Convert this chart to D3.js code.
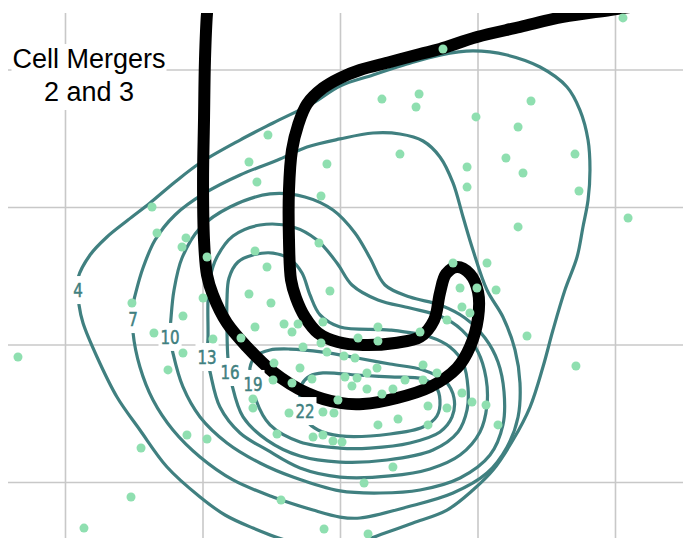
<!DOCTYPE html>
<html>
<head>
<meta charset="utf-8">
<script src="https://cdn.jsdelivr.net/npm/d3@7"></script>
<style>
  html, body { margin: 0; padding: 0; background: #fff; }
  svg { display: block; }
</style>
</head>
<body>
<div class="chart"></div>
<script>
const xTicks = [0, 10, 20, 30, 40]
const yTicks = [0, 10, 20, 30]
const levels = [4, 7, 10, 13, 16, 19, 22]
const titleLines = ['Cell Mergers', '2 and 3']

// contour rings (km), first vertex is where the level label sits
const contour4 = [[0.95,13.96],[1.02,12.87],[1.31,11.56],[2.33,9.09],[3.78,6.18],[5.45,3.78],[7.42,1.09],[9.82,-1.09],[11.64,-2.4],[13.67,-3.35],[16.0,-4.22],[18.55,-4.73],[21.09,-4.44],[23.27,-3.71],[25.31,-2.98],[27.78,-2.04],[29.67,-0.58],[31.13,0.87],[32.58,3.05],[33.82,5.45],[34.76,8.36],[35.49,11.05],[36.36,13.96],[37.24,16.36],[37.67,18.55],[38.04,20.51],[38.18,22.69],[38.04,24.87],[37.45,27.05],[36.51,28.73],[34.55,30.18],[32.15,31.05],[29.67,31.35],[27.27,31.05],[24.87,30.4],[22.4,29.6],[20.0,28.8],[18.04,27.56],[15.13,26.11],[12.73,24.87],[9.82,23.2],[8.0,21.82],[6.18,20.29],[4.58,19.05],[3.05,17.82],[1.82,16.51],[0.95,14.84]]
const contour7 = [[4.95,11.85],[4.95,10.84],[5.45,8.36],[6.4,5.96],[7.85,3.78],[9.82,1.82],[12.22,0.15],[15.13,-1.09],[18.04,-2.04],[20.0,-2.55],[21.45,-2.62],[24.87,-1.82],[28.22,-0.8],[30.69,0.65],[32.15,2.55],[32.95,4.73],[33.09,7.2],[32.73,9.6],[31.85,12.0],[30.69,13.96],[29.67,16.87],[28.95,19.27],[28.22,21.75],[27.27,23.64],[26.04,24.8],[24.36,25.31],[22.4,25.38],[20.0,24.95],[17.6,24.36],[15.64,23.49],[12.73,22.33],[10.18,21.02],[8.0,19.42],[6.55,17.6],[5.67,15.56],[5.16,13.82],[4.95,12.87]]
const contour10 = [[7.64,10.55],[7.85,9.38],[8.58,6.91],[9.82,4.73],[11.78,2.84],[14.18,1.38],[16.58,0.36],[20.0,-0.65],[22.91,-0.8],[25.82,-0.58],[28.73,0.29],[30.91,1.96],[31.85,4.15],[31.93,6.55],[31.49,8.73],[30.55,10.47],[29.09,11.93],[27.27,12.87],[25.09,13.45],[23.27,14.33],[22.18,16.29],[21.09,18.11],[19.49,19.78],[17.45,20.73],[14.91,20.95],[12.0,20.0],[9.82,18.47],[8.51,16.29],[7.93,13.96],[7.71,11.93]]
const contour13 = [[10.33,9.09],[10.55,8.0],[11.27,5.45],[12.73,3.56],[14.69,2.33],[17.09,1.02],[20.0,0.36],[23.64,0.44],[26.55,0.95],[28.73,1.96],[30.18,3.64],[30.69,5.6],[30.62,7.56],[30.04,9.45],[28.87,11.05],[27.27,12.07],[25.09,12.65],[22.76,13.24],[20.87,14.33],[19.78,15.93],[18.33,17.6],[16.58,18.55],[14.18,18.69],[12.22,17.89],[11.05,16.36],[10.55,14.84],[10.4,13.24],[10.4,10.47]]
const contour16 = [[12.0,8.0],[12.15,7.05],[12.95,4.73],[14.69,3.05],[17.09,1.89],[20.0,1.45],[23.42,1.6],[26.76,2.33],[28.58,3.64],[29.24,5.24],[29.31,6.84],[28.95,8.65],[28.0,9.82],[26.55,10.55],[23.64,11.05],[20.0,11.27],[18.55,12.15],[17.82,13.6],[17.24,15.2],[16.36,16.22],[15.13,16.65],[13.67,16.51],[12.58,16.0],[11.93,14.84],[11.78,13.24],[11.78,11.05],[11.85,9.02]]
const contour19 = [[13.67,7.13],[13.45,8.29],[13.89,9.16],[14.91,9.6],[16.36,9.67],[18.76,9.45],[21.24,9.02],[23.64,8.58],[26.04,8.15],[27.64,7.35],[28.29,6.11],[28.15,4.73],[27.27,3.64],[25.09,2.84],[22.18,2.47],[20.0,2.47],[17.09,2.91],[14.91,4.15],[13.89,5.96]]
const contour22 = [[17.45,5.16],[17.09,6.11],[17.24,7.13],[17.82,7.71],[18.76,7.93],[21.24,7.78],[23.64,7.64],[26.04,7.49],[26.98,6.91],[27.27,5.96],[27.05,4.8],[26.04,4.0],[23.64,3.49],[20.0,3.35],[18.4,3.78],[17.6,4.44]]

// merged cell track
const cellTrack = [[10.4,34.69],[10.33,34.11],[10.18,30.69],[10.11,26.33],[10.04,21.96],[10.11,17.6],[10.33,15.05],[10.76,13.6],[11.78,11.56],[13.24,9.82],[15.13,8.0],[17.6,6.47],[20.0,5.75],[21.67,5.67],[24.15,6.11],[26.55,6.91],[28.51,8.29],[29.45,9.82],[30.04,11.93],[30.04,13.82],[29.45,15.13],[28.51,15.64],[27.71,15.13],[27.27,13.75],[26.84,11.78],[25.82,10.55],[24.0,10.11],[21.67,9.96],[19.85,10.18],[18.4,10.84],[17.45,12.0],[16.8,13.38],[16.44,14.69],[16.29,17.6],[16.29,21.24],[16.51,24.15],[16.95,25.96],[17.6,27.49],[18.76,28.65],[20.0,29.38],[21.45,29.96],[23.64,30.55],[25.82,31.13],[27.27,31.49],[29.96,32.36],[33.09,33.09],[36.22,33.82],[39.64,34.33],[42.55,34.76]]

// observed cells
const cellPoints = [[-3.42,9.09],[1.38,-3.35],[4.8,-1.09],[5.53,2.47],[8.87,3.42],[10.33,3.13],[4.87,13.02],[6.47,10.84],[8.58,12.07],[8.58,9.38],[7.49,8.15],[6.33,20.0],[6.69,18.11],[8.8,17.75],[8.51,17.09],[10.33,16.36],[10.04,13.38],[10.76,10.4],[13.38,23.27],[14.76,25.24],[13.96,21.82],[19.05,23.13],[18.62,20.8],[18.47,17.38],[13.82,16.8],[14.69,15.64],[13.38,13.67],[14.98,13.02],[19.27,13.89],[13.82,11.27],[15.93,11.49],[16.51,10.91],[16.95,11.49],[18.76,11.64],[12.8,10.47],[17.31,9.82],[18.62,10.11],[19.05,9.45],[20.29,9.16],[21.09,9.02],[21.31,10.47],[22.76,11.27],[22.76,10.25],[25.82,10.91],[15.2,8.65],[17.09,8.29],[15.13,7.42],[16.51,7.2],[17.96,7.49],[20.36,7.64],[21.24,7.56],[20.87,6.98],[22.69,8.29],[21.96,7.93],[26.04,8.51],[27.05,7.93],[24.73,7.42],[26.04,7.42],[21.96,6.76],[23.05,6.4],[23.85,6.76],[19.85,5.96],[13.67,6.04],[13.67,5.38],[16.29,5.02],[18.76,5.09],[19.56,5.02],[26.4,5.53],[27.78,5.38],[28.87,6.47],[29.6,5.82],[30.62,5.6],[22.76,4.15],[24.22,4.58],[26.4,4.15],[31.49,4.15],[15.42,3.49],[18.04,3.27],[18.76,3.42],[19.49,2.98],[20.15,2.91],[23.85,1.09],[21.75,-0.07],[15.71,-1.31],[18.84,-3.42],[22.04,-3.78],[28.22,15.93],[30.69,15.93],[28.73,14.11],[29.96,14.11],[31.35,13.96],[28.87,12.73],[29.45,12.29],[27.78,11.78],[33.6,10.62],[37.16,8.44],[40.95,19.2],[27.49,31.49],[40.58,33.75],[23.05,27.85],[25.75,28.22],[25.53,27.27],[29.89,26.55],[33.89,27.71],[32.95,25.82],[24.36,23.85],[32.07,23.56],[33.31,22.47],[29.24,22.91],[29.24,21.45],[37.09,23.85],[37.38,21.16],[32.95,18.55]]

const contours = [contour4, contour7, contour10, contour13, contour16, contour19, contour22]

const width = 683, height = 538
const plot = {left: 8, top: 13, right: 683, bottom: 538}
const teal = '#408080'

const xScale = d3.scaleLinear().domain([0, 40]).range([65, 615])
const yScale = d3.scaleLinear().domain([0, 30]).range([482, 69.5])

const svg = d3.select('.chart').append('svg').attr('width', width).attr('height', height)

svg.append('defs').append('clipPath').attr('id', 'plotClip')
    .append('rect')
    .attr('x', plot.left).attr('y', plot.top)
    .attr('width', plot.right - plot.left).attr('height', plot.bottom - plot.top)

const body = svg.append('g').attr('clip-path', 'url(#plotClip)')

// grid from the axes
body.append('g')
    .attr('transform', 'translate(0,' + plot.bottom + ')')
    .call(d3.axisBottom(xScale).tickValues(xTicks).tickSize(-(plot.bottom - plot.top)).tickFormat(''))
    .call(g => g.select('.domain').remove())
    .selectAll('line').attr('stroke', '#c8c8c8').attr('stroke-width', 1.6)
body.append('g')
    .attr('transform', 'translate(' + plot.left + ',0)')
    .call(d3.axisLeft(yScale).tickValues(yTicks).tickSize(-(plot.right - plot.left)).tickFormat(''))
    .call(g => g.select('.domain').remove())
    .selectAll('line').attr('stroke', '#c8c8c8').attr('stroke-width', 1.6)

const ring = d3.line()
    .x(d => xScale(d[0]))
    .y(d => yScale(d[1]))
    .curve(d3.curveCatmullRomClosed.alpha(0.5))

body.append('g')
    .selectAll('path')
    .data(contours)
    .enter()
    .append('path')
    .attr('fill', 'none')
    .attr('stroke', teal)
    .attr('stroke-width', 3.2)
    .attr('d', d => ring(d))

const track = d3.line()
    .x(d => xScale(d[0]))
    .y(d => yScale(d[1]))
    .curve(d3.curveCatmullRom.alpha(0.5))

body.append('path')
    .datum(cellTrack)
    .attr('fill', 'none')
    .attr('stroke', '#000')
    .attr('stroke-width', 12)
    .attr('stroke-linejoin', 'round')
    .attr('d', track)

// level labels on white boxes
const labels = body.append('g')
contours.forEach(function(c, i) {
    const lx = xScale(c[0][0]), ly = yScale(c[0][1])
    const g = labels.append('g')
    const box = g.append('rect').attr('fill', '#fff')
    const t = g.append('text')
        .attr('transform', 'translate(' + lx + ',' + ly + ') scale(0.88,1)')
        .attr('dy', '0.36em')
        .attr('text-anchor', 'middle')
        .attr('font-family', "'DejaVu Sans Condensed', 'DejaVu Sans'")
        .attr('font-size', 19)
        .attr('fill', teal)
        .attr('stroke', teal)
        .attr('stroke-width', 0.5)
        .text(levels[i])
    const bb = t.node().getBBox()
    const w = bb.width * 0.88
    box.attr('x', lx - w / 2 - 2).attr('y', ly - 14).attr('width', w + 4).attr('height', 28)
})

body.append('g')
    .selectAll('circle')
    .data(cellPoints)
    .enter()
    .append('circle')
    .attr('cx', d => xScale(d[0]))
    .attr('cy', d => yScale(d[1]))
    .attr('r', 4.5)
    .attr('fill', '#8fdfb0')

// title
const title = svg.append('g')
const baselines = [68, 101]
titleLines.forEach(function(s, i) {
    const box = title.append('rect').attr('fill', '#fff')
    const t = title.append('text')
        .attr('x', 89).attr('y', baselines[i])
        .attr('text-anchor', 'middle')
        .attr('font-family', "'Liberation Sans', Arial, sans-serif")
        .attr('font-size', 27)
        .attr('fill', '#000')
        .text(s)
    const bb = t.node().getBBox()
    box.attr('x', bb.x - 1).attr('y', baselines[i] - 24).attr('width', bb.width + 2).attr('height', 33)
})
</script>
</body>
</html>
